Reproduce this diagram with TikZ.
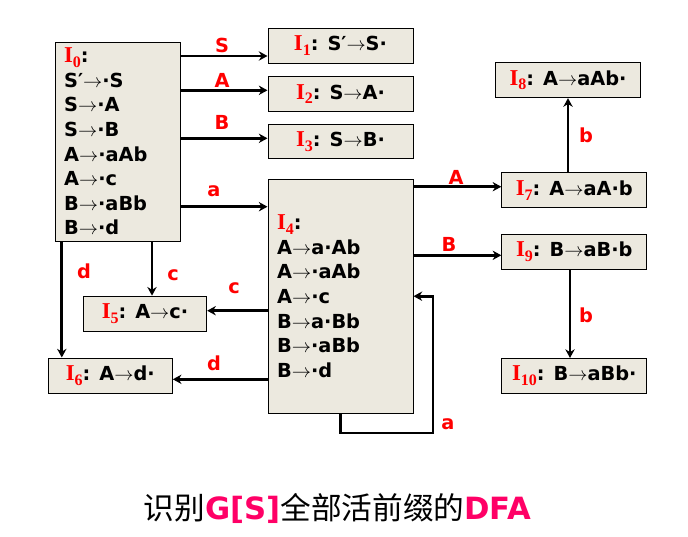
\documentclass[tikz,border=0pt]{standalone}
\usepackage{fontspec}
\setmainfont{DejaVu Sans}
\newfontfamily\seriffont{Liberation Serif}
\newfontfamily\cjkfont{Noto Sans CJK SC}
\usetikzlibrary{arrows.meta,calc}

\definecolor{boxfill}{RGB}{236,233,223}
\definecolor{pinkred}{RGB}{255,0,102}
\newcommand{\Ist}[1]{\textcolor{red}{{\seriffont\fontsize{17}{17}\selectfont\bfseries I}\raisebox{-3.5pt}{\seriffont\fontsize{12}{12}\selectfont #1}}}
\newcommand{\goesto}{$\rightarrow$}

\tikzset{
itembox/.style={draw, line width=0.75pt, fill=boxfill, inner sep=0pt,
  font=\fontsize{14.5}{18.4}\selectfont\bfseries},
kernelbox/.style={itembox, minimum width=108.75pt, minimum height=26pt},
edgelabel/.style={text=red, inner sep=0pt, font=\fontsize{14.5}{17}\selectfont\bfseries},
trans/.style={line width=2.2pt, -{Stealth[length=6.5pt,width=7pt]}}}
\tikzset{every picture/.style={line width=0.75pt}}

\begin{document}
\begin{tikzpicture}[x=0.75pt,y=0.75pt,yscale=-1,xscale=1]
\path[use as bounding box] (0,0) rectangle (688,536);

%Shape: Rectangle [I0]
\node (I0) at (117.5,141.5) [itembox, minimum width=93.75pt, minimum height=149.25pt, text width=80pt, align=left]
  {\Ist{0}:\\S′\goesto·S\\S\goesto·A\\S\goesto·B\\A\goesto·aAb\\A\goesto·c\\B\goesto·aBb\\B\goesto·d};
%Shape: Rectangle [I1..I3]
\node (I1) at (340.5,45.7) [kernelbox] {\Ist{1}: S′\goesto S·};
\node (I2) at (340.5,94) [kernelbox] {\Ist{2}: S\goesto A·};
\node (I3) at (340.5,141.5) [kernelbox] {\Ist{3}: S\goesto B·};
%Shape: Rectangle [I4]
\node (I4) at (340.5,296.2) [itembox, minimum width=108.75pt, minimum height=175.5pt, text width=95pt, align=left]
  {\Ist{4}:\\A\goesto a·Ab\\A\goesto·aAb\\A\goesto·c\\B\goesto a·Bb\\B\goesto·aBb\\B\goesto·d};
%Shape: Rectangle [I5, I6]
\node (I5) at (145,313.8) [itembox, minimum width=92.5pt, minimum height=26.5pt] {\Ist{5}: A\goesto c·};
\node (I6) at (110.3,375.5) [itembox, minimum width=93pt, minimum height=26.25pt] {\Ist{6}: A\goesto d·};
%Shape: Rectangle [I7..I10]
\node (I8) at (568,80.3) [kernelbox] {\Ist{8}: A\goesto aAb·};
\node (I7) at (574.3,190.3) [kernelbox] {\Ist{7}: A\goesto aA·b};
\node (I9) at (574.3,251.8) [kernelbox] {\Ist{9}: B\goesto aB·b};
\node (I10) at (574.3,375.8) [kernelbox] {\Ist{10}: B\goesto aBb·};

%helper points for the arrow ends
\coordinate (tS) at ($(I1.west)+(0,10.3)$);
\coordinate (tA) at ($(I2.west)+(0,-3.7)$);
\coordinate (tB) at ($(I3.west)+(0,-3.2)$);
\coordinate (ta) at ($(I4.north west)+(0,28)$);
\coordinate (t7) at ($(I7.west)+(0,-3.6)$);
\coordinate (t9) at ($(I9.west)+(0,3.5)$);
\coordinate (t10) at ($(I10.north)+(-4.3,0)$);
\coordinate (t5) at ($(I5.north)+(7,0)$);
\coordinate (s6) at ($(I0.south west)+(7.3,0)$);
\coordinate (u5) at ($(I5.east)+(0,-3.1)$);
\coordinate (u6) at ($(I6.east)+(0,3.8)$);
\coordinate (loopc) at (433,433);

%Straight Lines
\draw[trans] (I0.east |- tS) -- (tS);
\draw[trans] (I0.east |- tA) -- (tA);
\draw[trans] (I0.east |- tB) -- (tB);
\draw[trans] (I0.east |- ta) -- (ta);
\draw[trans] (I4.east |- t7) -- (t7);
\draw[trans] (I4.east |- t9) -- (t9);
\draw[trans] (I7.north -| I8.south) -- (I8.south);
\draw[trans] (I9.south -| t10) -- (t10);
\draw[trans] (I0.south -| t5) -- (t5);
\draw[trans] (s6) -- (s6 |- I6.north);
\draw[trans] (I4.west |- u5) -- (u5);
\draw[trans] (I4.west |- u6) -- (u6);
\draw[trans] (I4.south) |- (loopc) |- (I4.east);

% Text Node
\node (lS) at (222,45.5) [edgelabel] {S};
\node (lA) at (222,80.5) [edgelabel] {A};
\node (lB) at (222,122) [edgelabel] {B};
\node (la) at (214,191) [edgelabel] {a};
\node (lA4) at (456,177) [edgelabel] {A};
\node (lB4) at (449,244) [edgelabel] {B};
\node (lb7) at (586,135) [edgelabel] {b};
\node (lb9) at (586,315) [edgelabel] {b};
\node (lc0) at (173,275) [edgelabel] {c};
\node (ld0) at (84,271) [edgelabel] {d};
\node (lc4) at (234,288) [edgelabel] {c};
\node (ld4) at (214,363) [edgelabel] {d};
\node (lloop) at (448,424) [edgelabel] {a};

% Text Node
\node (title) at (337.5,508) [font=\fontsize{23}{26}\selectfont]
  {{\cjkfont 识别}\textcolor{pinkred}{\bfseries G[S]}{\cjkfont 全部活前缀的}\textcolor{pinkred}{\bfseries DFA}};

\end{tikzpicture}
\end{document}
